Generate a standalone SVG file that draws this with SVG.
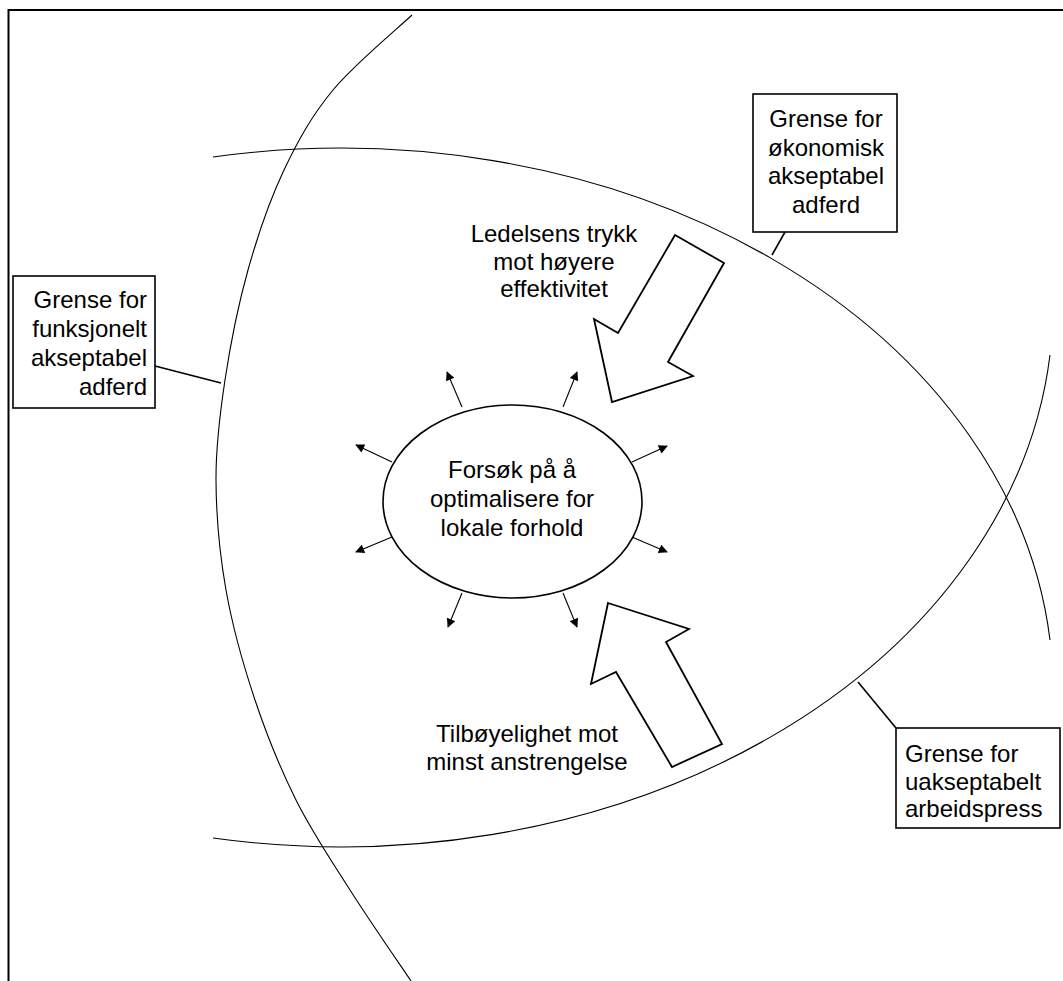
<svg xmlns="http://www.w3.org/2000/svg" width="1063" height="981" viewBox="0 0 1063 981">
  <style>
    .arc { fill: none; stroke: #000; stroke-width: 1.1; }
    .box { fill: #fff; stroke: #000; stroke-width: 1.6; }
    .lead { fill: none; stroke: #000; stroke-width: 1.6; }
    .push { fill: #fff; stroke: #000; stroke-width: 1.8; stroke-linejoin: miter; }
    .ray { stroke: #000; stroke-width: 1.1; marker-end: url(#tip); }
    text { font-family: "Liberation Sans", Arial, sans-serif; font-size: 24px; fill: #000; }
    .mid { text-anchor: middle; }
    .end { text-anchor: end; }
  </style>
  <defs>
    <marker id="tip" viewBox="0 0 10 10" refX="9" refY="5" markerWidth="11" markerHeight="9" markerUnits="userSpaceOnUse" orient="auto">
      <path d="M0,0 L10,5 L0,10 Z" fill="#000"/>
    </marker>
  </defs>

  <rect width="1063" height="981" fill="#fff"/>

  <!-- outer frame (open to the right and bottom) -->
  <path d="M8.5,981 L8.5,10 L1063,10" fill="none" stroke="#000" stroke-width="2"/>

  <!-- boundary curves -->
  <g id="boundaries">
    <path class="arc" d="M412,15 C398.8,27.5 354.3,64.2 333,90 C311.7,115.8 298.2,140 284,170 C269.8,200 257.8,235 248,270 C238.2,305 230.3,345 225,380 C219.7,415 215.8,445 216,480 C216.2,515 219.5,553.3 226,590 C232.5,626.7 243.3,665 255,700 C266.7,735 280.2,768.3 296,800 C311.8,831.7 330.8,859.8 350,890 C369.2,920.2 400.8,965.8 411,981"/>
    <path class="arc" d="M213,157 A712,543 0 0 1 1050,640"/>
    <path class="arc" d="M213,838 A712,543 0 0 0 1050,355"/>
  </g>

  <!-- label leaders and outward rays -->
  <g id="connectors">
    <line class="lead" x1="155" y1="366" x2="221" y2="383"/>
    <line class="lead" x1="785" y1="232" x2="772" y2="255"/>
    <line class="lead" x1="896" y1="728" x2="858" y2="682"/>
    <line class="ray" x1="462" y1="407" x2="447" y2="372"/>
    <line class="ray" x1="563" y1="407" x2="577" y2="372"/>
    <line class="ray" x1="392" y1="462" x2="356" y2="445"/>
    <line class="ray" x1="632" y1="462" x2="667" y2="446"/>
    <line class="ray" x1="392" y1="537" x2="356" y2="552"/>
    <line class="ray" x1="632" y1="537" x2="667" y2="552"/>
    <line class="ray" x1="462" y1="593" x2="448" y2="627"/>
    <line class="ray" x1="563" y1="593" x2="577" y2="627"/>
  </g>

  <g id="box-functional">
    <rect class="box" x="13" y="276" width="142" height="132"/>
    <text class="end" x="147" y="308">Grense for</text>
    <text class="end" x="147" y="337">funksjonelt</text>
    <text class="end" x="147" y="366">akseptabel</text>
    <text class="end" x="147" y="395">adferd</text>
  </g>

  <g id="box-economic">
    <rect class="box" x="753" y="94" width="144" height="138"/>
    <text class="mid" x="826" y="127">Grense for</text>
    <text class="mid" x="826" y="156">økonomisk</text>
    <text class="mid" x="826" y="184">akseptabel</text>
    <text class="mid" x="826" y="213">adferd</text>
  </g>

  <g id="box-workload">
    <rect class="box" x="896" y="728" width="164" height="100"/>
    <text x="905" y="762">Grense for</text>
    <text x="905" y="790">uakseptabelt</text>
    <text x="905" y="817">arbeidspress</text>
  </g>

  <g id="centre">
    <ellipse class="box" cx="512.5" cy="501.5" rx="129.5" ry="96.5"/>
    <text class="mid" x="512" y="478">Forsøk på å</text>
    <text class="mid" x="512" y="507">optimalisere for</text>
    <text class="mid" x="512" y="536">lokale forhold</text>
  </g>

  <g id="management-pressure">
    <polygon class="push" points="675,235 724,263 668,362 693,376 612,402 594,319 618,333"/>
    <text class="mid" x="554" y="242">Ledelsens trykk</text>
    <text class="mid" x="554" y="270">mot høyere</text>
    <text class="mid" x="554" y="297">effektivitet</text>
  </g>

  <g id="least-effort">
    <polygon class="push" points="608,603 689,629 666,642 722,744 672,767 616,672 591,684"/>
    <text class="mid" x="527" y="742">Tilbøyelighet mot</text>
    <text class="mid" x="527" y="770">minst anstrengelse</text>
  </g>
</svg>
